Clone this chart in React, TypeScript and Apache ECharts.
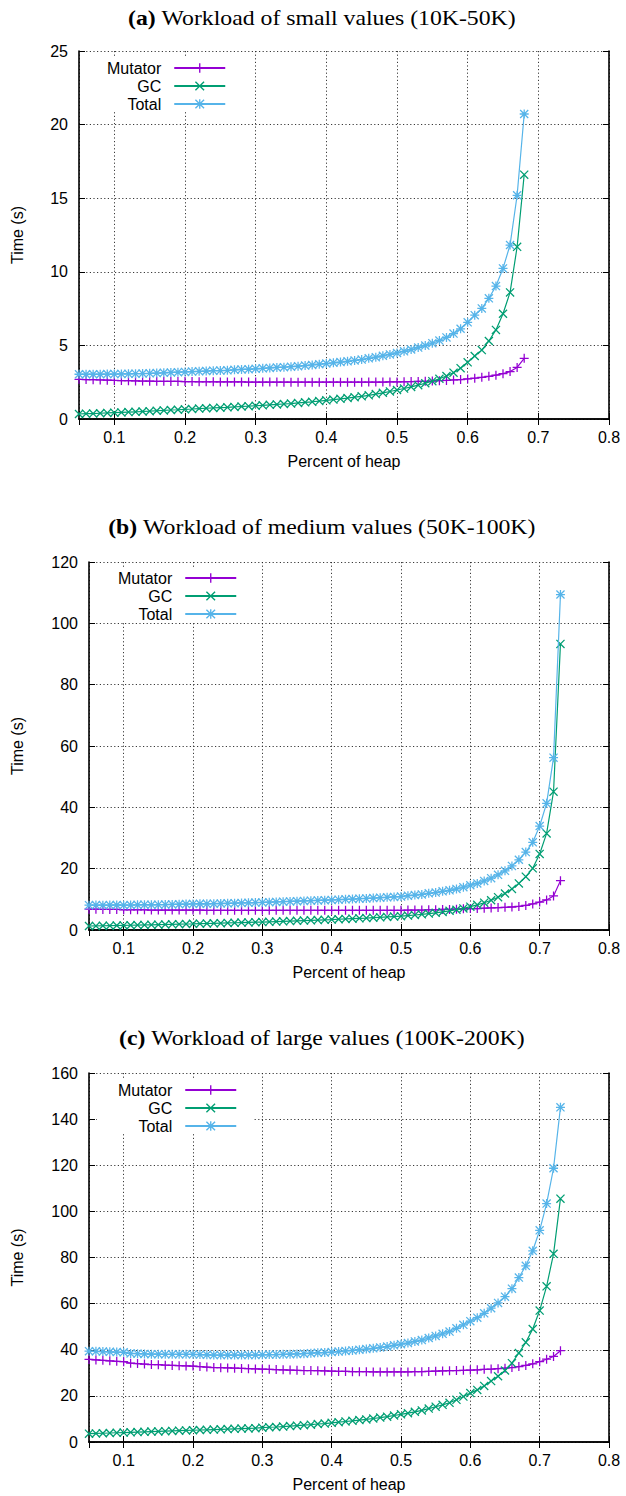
import React, { useEffect, useRef } from 'react';
import * as echarts from 'echarts';

// ---------- data ----------
const xA = [0.05, 0.06, 0.07, 0.08, 0.09, 0.10, 0.11, 0.12, 0.13, 0.14, 0.15, 0.16, 0.17, 0.18, 0.19, 0.20,
  0.21, 0.22, 0.23, 0.24, 0.25, 0.26, 0.27, 0.28, 0.29, 0.30, 0.31, 0.32, 0.33, 0.34, 0.35, 0.36, 0.37, 0.38,
  0.39, 0.40, 0.41, 0.42, 0.43, 0.44, 0.45, 0.46, 0.47, 0.48, 0.49, 0.50, 0.51, 0.52, 0.53, 0.54, 0.55, 0.56,
  0.57, 0.58, 0.59, 0.60, 0.61, 0.62, 0.63, 0.64, 0.65, 0.66, 0.67, 0.68];

const mutatorA = [2.70, 2.68, 2.67, 2.65, 2.64, 2.62, 2.61, 2.60, 2.59, 2.58, 2.57, 2.56, 2.56, 2.55, 2.55, 2.54,
  2.54, 2.53, 2.53, 2.53, 2.52, 2.52, 2.52, 2.52, 2.51, 2.51, 2.51, 2.51, 2.51, 2.50, 2.50, 2.50, 2.50, 2.50,
  2.50, 2.50, 2.50, 2.50, 2.50, 2.50, 2.50, 2.51, 2.51, 2.51, 2.52, 2.52, 2.53, 2.54, 2.55, 2.56, 2.58, 2.60,
  2.62, 2.65, 2.68, 2.72, 2.77, 2.83, 2.90, 2.98, 3.08, 3.22, 3.50, 4.12];

const gcA = [0.34, 0.36, 0.37, 0.39, 0.41, 0.43, 0.45, 0.47, 0.49, 0.51, 0.53, 0.56, 0.58, 0.61, 0.63, 0.66,
  0.68, 0.71, 0.73, 0.75, 0.77, 0.79, 0.82, 0.85, 0.87, 0.90, 0.93, 0.96, 0.99, 1.02, 1.05, 1.09, 1.13, 1.17,
  1.22, 1.27, 1.32, 1.37, 1.42, 1.48, 1.54, 1.61, 1.69, 1.78, 1.87, 1.97, 2.07, 2.18, 2.30, 2.43, 2.57, 2.73,
  2.92, 3.15, 3.45, 3.85, 4.28, 4.68, 5.30, 6.05, 7.15, 8.60, 11.70, 16.60];

const totalA = [3.04, 3.04, 3.04, 3.04, 3.05, 3.05, 3.06, 3.07, 3.08, 3.09, 3.10, 3.12, 3.14, 3.16, 3.18, 3.20,
  3.22, 3.24, 3.26, 3.28, 3.29, 3.31, 3.34, 3.37, 3.38, 3.41, 3.44, 3.47, 3.50, 3.52, 3.55, 3.59, 3.63, 3.67,
  3.72, 3.77, 3.82, 3.87, 3.92, 3.98, 4.04, 4.12, 4.20, 4.29, 4.39, 4.49, 4.60, 4.72, 4.85, 4.99, 5.15, 5.33,
  5.54, 5.80, 6.13, 6.57, 7.05, 7.51, 8.20, 9.03, 10.23, 11.82, 15.20, 20.72];

const xBC = [0.05, 0.06, 0.07, 0.08, 0.09, 0.10, 0.11, 0.12, 0.13, 0.14, 0.15, 0.16, 0.17, 0.18, 0.19, 0.20,
  0.21, 0.22, 0.23, 0.24, 0.25, 0.26, 0.27, 0.28, 0.29, 0.30, 0.31, 0.32, 0.33, 0.34, 0.35, 0.36, 0.37, 0.38,
  0.39, 0.40, 0.41, 0.42, 0.43, 0.44, 0.45, 0.46, 0.47, 0.48, 0.49, 0.50, 0.51, 0.52, 0.53, 0.54, 0.55, 0.56,
  0.57, 0.58, 0.59, 0.60, 0.61, 0.62, 0.63, 0.64, 0.65, 0.66, 0.67, 0.68, 0.69, 0.70, 0.71, 0.72, 0.73];

const mutatorB = [6.8, 6.8, 6.7, 6.7, 6.7, 6.6, 6.6, 6.6, 6.6, 6.5, 6.5, 6.5, 6.5, 6.5, 6.5, 6.5,
  6.5, 6.4, 6.4, 6.4, 6.4, 6.4, 6.4, 6.4, 6.4, 6.4, 6.4, 6.4, 6.4, 6.4, 6.4, 6.4, 6.4, 6.4,
  6.4, 6.4, 6.4, 6.4, 6.4, 6.4, 6.4, 6.4, 6.4, 6.4, 6.4, 6.4, 6.5, 6.5, 6.5, 6.6, 6.6, 6.7,
  6.7, 6.8, 6.9, 7.0, 7.0, 7.1, 7.2, 7.3, 7.4, 7.5, 7.7, 8.0, 8.5, 9.1, 9.8, 11.1, 16.1];

const gcB = [1.30, 1.34, 1.38, 1.42, 1.46, 1.50, 1.55, 1.60, 1.65, 1.70, 1.75, 1.80, 1.85, 1.90, 1.95, 2.00,
  2.06, 2.12, 2.18, 2.24, 2.30, 2.36, 2.42, 2.48, 2.54, 2.60, 2.68, 2.76, 2.84, 2.92, 3.00, 3.08, 3.16, 3.24,
  3.32, 3.40, 3.50, 3.60, 3.70, 3.80, 3.90, 4.02, 4.14, 4.26, 4.38, 4.50, 4.70, 4.90, 5.10, 5.35, 5.60, 5.90,
  6.25, 6.60, 7.05, 7.60, 8.20, 8.90, 9.70, 10.70, 11.90, 13.40, 15.20, 17.40, 20.10, 24.80, 31.50, 45.10, 93.30];

const totalB = [8.10, 8.14, 8.08, 8.12, 8.16, 8.10, 8.15, 8.20, 8.25, 8.20, 8.25, 8.30, 8.35, 8.40, 8.45, 8.50,
  8.56, 8.52, 8.58, 8.64, 8.70, 8.76, 8.82, 8.88, 8.94, 9.00, 9.08, 9.16, 9.24, 9.32, 9.40, 9.48, 9.56, 9.64,
  9.72, 9.80, 9.90, 10.00, 10.10, 10.20, 10.30, 10.42, 10.54, 10.66, 10.78, 10.90, 11.20, 11.40, 11.60, 11.95, 12.20, 12.60,
  12.95, 13.40, 13.95, 14.60, 15.20, 16.00, 16.90, 18.00, 19.30, 20.90, 22.90, 25.40, 28.60, 33.90, 41.30, 56.20, 109.40];

const mutatorC = [35.8, 35.6, 35.4, 35.2, 35.0, 34.8, 34.2, 34.0, 33.8, 33.6, 33.5, 33.3, 33.2, 33.1, 33.0, 32.9,
  32.7, 32.5, 32.3, 32.2, 32.1, 32.0, 31.9, 31.8, 31.7, 31.6, 31.5, 31.4, 31.3, 31.2, 31.1, 31.0, 31.0, 30.9,
  30.8, 30.7, 30.6, 30.6, 30.5, 30.5, 30.5, 30.4, 30.4, 30.4, 30.4, 30.4, 30.4, 30.5, 30.5, 30.6, 30.7, 30.8,
  30.9, 31.0, 31.1, 31.2, 31.3, 31.5, 31.6, 31.8, 32.0, 32.3, 32.7, 33.2, 33.9, 34.8, 35.9, 37.1, 39.6];

const gcC = [3.6, 3.7, 3.8, 3.9, 4.0, 4.1, 4.2, 4.3, 4.4, 4.5, 4.6, 4.7, 4.8, 4.9, 5.0, 5.1,
  5.2, 5.3, 5.4, 5.5, 5.6, 5.7, 5.8, 5.9, 6.0, 6.2, 6.4, 6.5, 6.7, 6.9, 7.1, 7.3, 7.5, 7.8,
  8.0, 8.3, 8.6, 8.9, 9.2, 9.5, 9.8, 10.2, 10.6, 11.0, 11.5, 12.0, 12.5, 13.1, 13.7, 14.5, 15.3, 16.1,
  17.0, 18.3, 19.7, 21.2, 22.6, 24.3, 26.4, 28.5, 31.0, 34.2, 38.6, 43.2, 49.0, 57.0, 67.5, 81.6, 105.5];

const totalC = [39.4, 39.3, 39.2, 39.1, 39.0, 38.9, 38.4, 38.3, 38.2, 38.1, 38.1, 38.0, 38.0, 38.0, 38.0, 38.0,
  37.9, 37.8, 37.7, 37.7, 37.7, 37.7, 37.7, 37.7, 37.7, 37.8, 37.9, 37.9, 38.0, 38.1, 38.2, 38.3, 38.5, 38.7,
  38.8, 39.0, 39.2, 39.5, 39.7, 40.0, 40.3, 40.6, 41.0, 41.4, 41.9, 42.4, 42.9, 43.6, 44.2, 45.1, 46.0, 46.9,
  47.9, 49.3, 50.8, 52.4, 53.9, 55.8, 58.0, 60.3, 63.0, 66.5, 71.3, 76.4, 82.9, 91.8, 103.4, 118.7, 145.1];

const seriesNames = ['Mutator', 'GC', 'Total'];
const titleTags = ['(a)', '(b)', '(c)'];
const titleTexts = [' Workload of small values (10K-50K)', ' Workload of medium values (50K-100K)', ' Workload of large values (100K-200K)'];
const yMaxes = [25, 120, 160];
const yIntervals = [5, 20, 20];
const xAxisName = 'Percent of heap';
const yAxisName = 'Time (s)';

// ---------- style ----------
const COLORS = ['#9400d3', '#009e73', '#56b4e9'];
const PLUS = 'M4.3,0H5.7V4.3H10V5.7H5.7V10H4.3V5.7H0V4.3H4.3Z';
const CROSS = 'M0,1L1,0L10,9L9,10ZM9,0L10,1L1,10L0,9Z';
const SYMBOLS = ['path://' + PLUS, 'path://' + CROSS, 'path://' + PLUS + CROSS];
const SANS = 'Liberation Sans, Arial, Helvetica, sans-serif';
const SERIF = 'Liberation Serif, Times New Roman, serif';

const layouts = [
  { grid: { left: 79, top: 51, width: 530, height: 368 }, titleY: 18, legendLeft: 86, legendTop: 58, padTop: 2 },
  { grid: { left: 89, top: 562, width: 520, height: 368 }, titleY: 527, legendLeft: 97, legendTop: 569, padTop: 1 },
  { grid: { left: 89, top: 1073, width: 520, height: 369 }, titleY: 1038, legendLeft: 97, legendTop: 1080, padTop: 2 },
];

export default function App() {
  const ref = useRef<HTMLDivElement>(null);
  useEffect(() => {
    if (!ref.current) return;
    const chart = echarts.init(ref.current, null, { renderer: 'svg' });
    const panelData = [
      { x: xA, ys: [mutatorA, gcA, totalA] },
      { x: xBC, ys: [mutatorB, gcB, totalB] },
      { x: xBC, ys: [mutatorC, gcC, totalC] },
    ];

    const grids: any[] = [];
    const xAxes: any[] = [];
    const yAxes: any[] = [];
    const series: any[] = [];
    const legends: any[] = [];
    const graphics: any[] = [];

    const tickStyle = { show: true, inside: true, length: 6, lineStyle: { color: '#000', width: 1 } };
    const axisLine = { show: true, lineStyle: { color: '#000', width: 1.6 } };
    const gridLine = { show: true, lineStyle: { color: '#222', width: 0.9, type: [1.2, 2.4] } };

    layouts.forEach((L, g) => {
      grids.push({ ...L.grid, containLabel: false });
      const xCommon = { type: 'value', gridIndex: g, min: 0.05, max: 0.8, splitNumber: 8, minInterval: 0.1, maxInterval: 0.1 };
      xAxes.push({
        ...xCommon, position: 'bottom', axisLine, axisTick: tickStyle,
        axisLabel: { show: true, showMinLabel: false, margin: 10, fontSize: 16, fontFamily: SANS, color: '#000' },
        splitLine: gridLine,
      });
      xAxes.push({
        ...xCommon, position: 'top', axisLine, axisTick: tickStyle,
        axisLabel: { show: false }, splitLine: { show: false },
      });
      const yCommon = { type: 'value', gridIndex: g, min: 0, max: yMaxes[g], interval: yIntervals[g] };
      yAxes.push({
        ...yCommon, position: 'left', axisLine, axisTick: tickStyle,
        axisLabel: { show: true, margin: 11, fontSize: 16, fontFamily: SANS, color: '#000' },
        splitLine: gridLine,
      });
      yAxes.push({
        ...yCommon, position: 'right', axisLine, axisTick: tickStyle,
        axisLabel: { show: false }, splitLine: { show: false },
      });

      const P = panelData[g];
      seriesNames.forEach((name, s) => {
        series.push({
          type: 'line', name, xAxisIndex: g * 2, yAxisIndex: g * 2,
          data: P.x.map((xv, i) => [xv, P.ys[s][i]]),
          symbol: SYMBOLS[s], symbolSize: 9,
          lineStyle: { color: COLORS[s], width: 1.2 },
          itemStyle: { color: COLORS[s] },
          emphasis: { disabled: true },
          z: 2 + s,
        });
      });

      legends.push({
        data: seriesNames,
        orient: 'vertical', align: 'right',
        left: L.legendLeft, top: L.legendTop,
        padding: [L.padTop, 16, 0, 21],
        itemWidth: 51, itemHeight: 12, itemGap: 2,
        backgroundColor: '#fff',
        selectedMode: false,
        textStyle: { fontSize: 16, fontFamily: SANS, color: '#000', lineHeight: 14, padding: [0, 8, 0, 0] },
      });

      const cx = L.grid.left + L.grid.width / 2;
      const cy = L.grid.top + L.grid.height / 2;
      graphics.push({
        type: 'text', x: 322, y: L.titleY, scaleX: 1.08,
        style: {
          text: '{b|' + titleTags[g] + '}' + titleTexts[g],
          fontSize: 22, fontFamily: SERIF, fill: '#000', align: 'center', verticalAlign: 'middle',
          rich: { b: { fontWeight: 'bold', fontSize: 22, fontFamily: SERIF, fill: '#000' } },
        },
      });
      graphics.push({
        type: 'text', x: 17, y: cy, rotation: Math.PI / 2,
        style: { text: yAxisName, fontSize: 16, fontFamily: SANS, fill: '#000', align: 'center', verticalAlign: 'middle' },
      });
      graphics.push({
        type: 'text', x: cx, y: L.grid.top + L.grid.height + 42,
        style: { text: xAxisName, fontSize: 16, fontFamily: SANS, fill: '#000', align: 'center', verticalAlign: 'middle' },
      });
    });

    chart.setOption({
      animation: false,
      backgroundColor: '#fff',
      grid: grids,
      xAxis: xAxes,
      yAxis: yAxes,
      series,
      legend: legends,
      graphic: graphics,
    });
    return () => chart.dispose();
  }, []);
  return <div ref={ref} style={{ position: 'absolute', left: 0, top: 0, width: 626, height: 1496 }} />;
}
